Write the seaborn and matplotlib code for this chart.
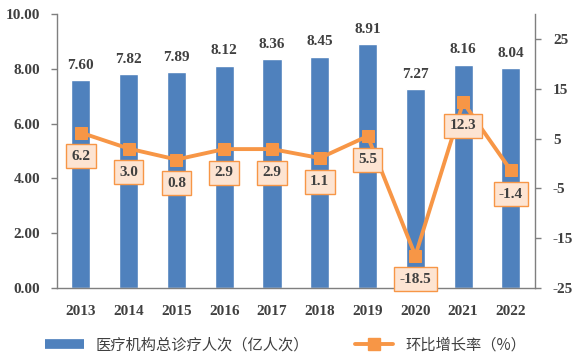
import numpy as np
import pandas as pd
import matplotlib.pyplot as plt
import seaborn as sns
from matplotlib.lines import Line2D

years = ["2013", "2014", "2015", "2016", "2017", "2018", "2019", "2020", "2021", "2022"]
visits = [7.60, 7.82, 7.89, 8.12, 8.36, 8.45, 8.91, 7.27, 8.16, 8.04]
growth = [6.2, 3.0, 0.8, 2.9, 2.9, 1.1, 5.5, -18.5, 12.3, -1.4]
bar_name = "医疗机构总诊疗人次（亿人次）"
line_name = "环比增长率（%）"

blue = "#4F81BD"
orange = "#F79646"
grey = "#404040"

sns.set_theme(style="white")
plt.rcParams["font.family"] = ["Liberation Serif", "Noto Sans CJK SC"]
plt.rcParams["axes.unicode_minus"] = False

df = pd.DataFrame({"year": years, "visits": visits, "growth": growth})

fig = plt.figure(figsize=(5.72, 3.63), dpi=100)
ax = fig.add_axes([0.0997, 0.2066, 0.8353, 0.7544])

sns.barplot(data=df, x="year", y="visits", color=blue, width=0.4, saturation=1, ax=ax)
ax.set_ylim(0, 10)
ax.set_xlim(-0.5, 9.5)
ax.set_yticks(np.arange(0, 10.01, 2))
ax.set_yticklabels([f"{v:.2f}" for v in np.arange(0, 10.01, 2)])
ax.set_xlabel("")
ax.set_ylabel("")
for i, v in enumerate(visits):
    ax.text(i, v + 0.3, f"{v:.2f}", ha="center", va="bottom",
            fontsize=11, fontweight="bold", color=grey)

ax2 = ax.twinx()
sns.lineplot(x=np.arange(len(years)), y=growth, color=orange, lw=2.8,
             marker="s", markersize=8, markeredgecolor=orange, ax=ax2)
ax2.set_ylim(-25, 30)
ax2.set_yticks([-25, -15, -5, 5, 15, 25])
ax2.set_yticklabels([str(t) for t in [-25, -15, -5, 5, 15, 25]])
for i, g in enumerate(growth):
    ax2.annotate(f"{g:.1f}", (i, g), xytext=(0, -17), textcoords="offset points",
                 ha="center", va="center", fontsize=11, fontweight="bold", color=grey,
                 bbox=dict(boxstyle="square,pad=0.35", fc="#FDE4D2", ec=orange, lw=1))

for a in (ax, ax2):
    a.spines["top"].set_visible(False)
    for s in ["left", "right", "bottom"]:
        a.spines[s].set_color("#7F7F7F")
        a.spines[s].set_linewidth(1)
    a.tick_params(labelsize=11, colors=grey, length=4, width=1)
    for lab in a.get_xticklabels() + a.get_yticklabels():
        lab.set_fontweight("bold")
ax.tick_params(axis="y", left=True, color="#7F7F7F", pad=8)
ax.tick_params(axis="x", bottom=False, pad=8)
ax2.tick_params(axis="y", right=True, color="#7F7F7F", pad=9)
ax.spines["right"].set_visible(False)
ax2.spines["left"].set_visible(False)
ax2.spines["bottom"].set_visible(False)

handles = [Line2D([0], [0], color=blue, lw=7, solid_capstyle="butt"),
           Line2D([0], [0], color=orange, lw=2.8, marker="s", markersize=8)]
fig.legend(handles, [bar_name, line_name], loc="center", bbox_to_anchor=(0.5, 0.05),
           ncol=2, frameon=False, handlelength=2.5, columnspacing=3,
           prop={"family": ["Noto Sans CJK SC"], "size": 11})
for t in fig.legends[0].get_texts():
    t.set_color(grey)

fig.savefig("out.png", dpi=100)
